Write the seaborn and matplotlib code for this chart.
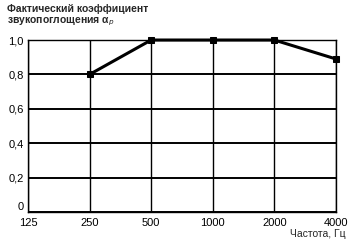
import matplotlib
matplotlib.use("Agg")
import matplotlib.pyplot as plt
import seaborn as sns
import pandas as pd

freq_labels = ["125", "250", "500", "1000", "2000", "4000"]
point_freqs = ["250", "500", "1000", "2000", "4000"]
alpha_values = [0.8, 1.0, 1.0, 1.0, 0.89]
y_ticks = [0, 0.2, 0.4, 0.6, 0.8, 1.0]
y_tick_labels = ["0", "0,2", "0,4", "0,6", "0,8", "1,0"]

sns.set_theme(style="white")
plt.rcParams['font.family'] = ['Liberation Sans', 'DejaVu Sans']

df = pd.DataFrame({
    "x": [freq_labels.index(f) for f in point_freqs],
    "y": alpha_values,
})

fig = plt.figure(figsize=(3.55, 2.44), dpi=100)
ax = fig.add_axes([0.079, 0.131, 0.867, 0.705])

sns.lineplot(data=df, x="x", y="y", ax=ax, color="black", linewidth=2.2,
             marker="s", markersize=4.5, markeredgecolor="black", zorder=5,
             clip_on=False)

ax.set_xlim(0, len(freq_labels) - 1)
ax.set_ylim(0, 1.0)
ax.set_xticks(range(len(freq_labels)))
ax.set_xticklabels(freq_labels, fontsize=8)
ax.set_yticks(y_ticks)
ax.set_yticklabels(y_tick_labels, fontsize=8)
ax.tick_params(axis="x", length=0, pad=4, colors="black")
ax.tick_params(axis="y", length=0, pad=3, colors="black")
ax.get_yticklabels()[0].set_verticalalignment("bottom")
ax.grid(True, axis="y", color="black", linewidth=1.4)
ax.grid(True, axis="x", color="black", linewidth=1.0)
for s in ax.spines.values():
    s.set_color("black")
    s.set_linewidth(1.0)
ax.set_xlabel("")
ax.set_ylabel("")

fig.text(0.02, 0.985, "Фактический коэффициент\nзвукопоглощения α$_p$", ha="left", va="top",
         fontsize=7.5, fontweight="bold", linespacing=1.15)
fig.text(0.975, 0.02, "Частота, Гц", ha="right", va="bottom", fontsize=7.5)

fig.savefig("out.png", dpi=100)
